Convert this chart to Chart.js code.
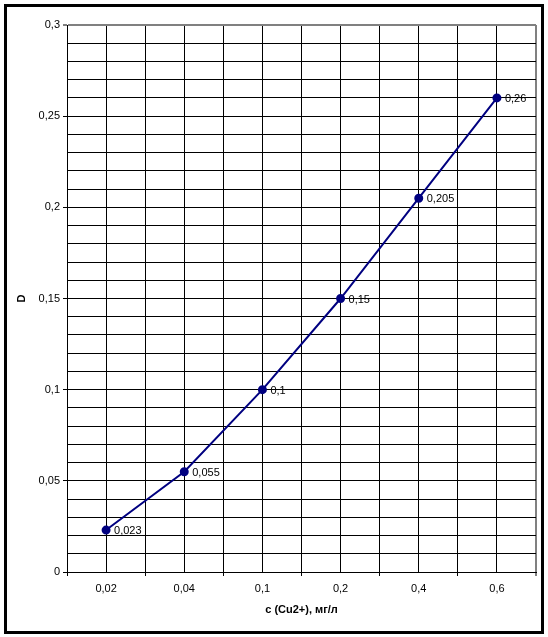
<!DOCTYPE html>
<html>
<head>
<meta charset="utf-8">
<script src="https://cdn.jsdelivr.net/npm/chart.js@4/dist/chart.umd.min.js"></script>
<style>
html,body{margin:0;padding:0;background:#fff;width:548px;height:637px;overflow:hidden;}
#c{position:absolute;left:0;top:0;}
#frame{position:absolute;left:4px;top:4px;width:540px;height:630px;box-sizing:border-box;border:3px solid #000;pointer-events:none;}
</style>
</head>
<body>
<canvas id="c" width="548" height="637"></canvas>
<div id="frame"></div>
<script>
const categories = ['0,02', '0,04', '0,1', '0,2', '0,4', '0,6'];
const values = [0.023, 0.055, 0.1, 0.15, 0.205, 0.26];
const valueLabels = ['0,023', '0,055', '0,1', '0,15', '0,205', '0,26'];
const yMin = 0, yMax = 0.3, yStep = 0.01, yLabelStep = 0.05;
const xTitle = 'c (Cu2+), мг/л';
const yTitle = 'D';

const FONT = 'Liberation Sans, Arial, sans-serif';
const points = values.map((v, i) => ({x: i, y: v}));

const isMult = (v, s) => Math.abs(v / s - Math.round(v / s)) < 1e-6;

const labelPlugin = {
  id: 'valueLabels',
  afterDatasetsDraw(chart) {
    const ctx = chart.ctx;
    const meta = chart.getDatasetMeta(0);
    ctx.save();
    ctx.font = '11px ' + FONT;
    ctx.fillStyle = '#000';
    ctx.textAlign = 'left';
    ctx.textBaseline = 'middle';
    meta.data.forEach((el, i) => {
      ctx.fillText(valueLabels[i], el.x + 8, el.y + 1);
    });
    ctx.restore();
  }
};

new Chart(document.getElementById('c'), {
  type: 'line',
  data: {
    datasets: [{
      data: points,
      borderColor: '#000080',
      backgroundColor: '#000080',
      borderWidth: 2,
      pointRadius: 3.5,
      pointBackgroundColor: '#000080',
      pointBorderColor: '#000080',
      tension: 0,
      fill: false
    }]
  },
  options: {
    responsive: false,
    devicePixelRatio: 1,
    animation: false,
    layout: {padding: {top: 25, right: 12, left: 0, bottom: 0}},
    plugins: {legend: {display: false}, tooltip: {enabled: false}},
    scales: {
      x: {
        type: 'linear',
        min: -0.5,
        max: categories.length - 0.5,
        afterFit(s) { s.height = 65; },
        border: {color: '#000', width: 1},
        grid: {
          color: c => (Math.abs(c.tick.value - (categories.length - 0.5)) < 1e-6 ? '#808080' : '#000'),
          lineWidth: c => (Math.abs(c.tick.value - (categories.length - 0.5)) < 1e-6 ? 2 : 1),
          tickColor: c => (isMult(c.tick.value, 1) ? 'rgba(0,0,0,0)' : '#000'),
          tickLength: 4,
          tickWidth: 1
        },
        ticks: {
          stepSize: 0.5,
          autoSkip: false,
          maxRotation: 0,
          padding: 6,
          color: '#000',
          font: {family: FONT, size: 11},
          callback: v => (isMult(v, 1) && v >= 0 && v < categories.length ? categories[Math.round(v)] : '')
        },
        title: {
          display: true,
          text: xTitle,
          color: '#000',
          font: {family: FONT, size: 11, weight: 'bold'},
          padding: {top: 0, bottom: 20}
        }
      },
      y: {
        type: 'linear',
        min: yMin,
        max: yMax,
        afterFit(s) { s.width = 67; },
        border: {color: '#000', width: 1},
        grid: {
          color: c => (Math.abs(c.tick.value - yMax) < 1e-6 ? '#808080' : '#000'),
          lineWidth: c => (Math.abs(c.tick.value - yMax) < 1e-6 ? 2 : 1),
          tickColor: c => (isMult(c.tick.value, yLabelStep) ? '#000' : 'rgba(0,0,0,0)'),
          tickLength: 4,
          tickWidth: 1
        },
        ticks: {
          stepSize: yStep,
          autoSkip: false,
          maxTicksLimit: 1000,
          padding: 3,
          color: '#000',
          font: {family: FONT, size: 11},
          callback: v => (isMult(v, yLabelStep) ? String(Number(v.toFixed(2))).replace('.', ',') : '')
        },
        title: {
          display: true,
          text: yTitle,
          color: '#000',
          font: {family: FONT, size: 11, weight: 'bold'},
          padding: {top: 15, bottom: 0}
        }
      }
    }
  },
  plugins: [labelPlugin]
});
</script>
</body>
</html>
